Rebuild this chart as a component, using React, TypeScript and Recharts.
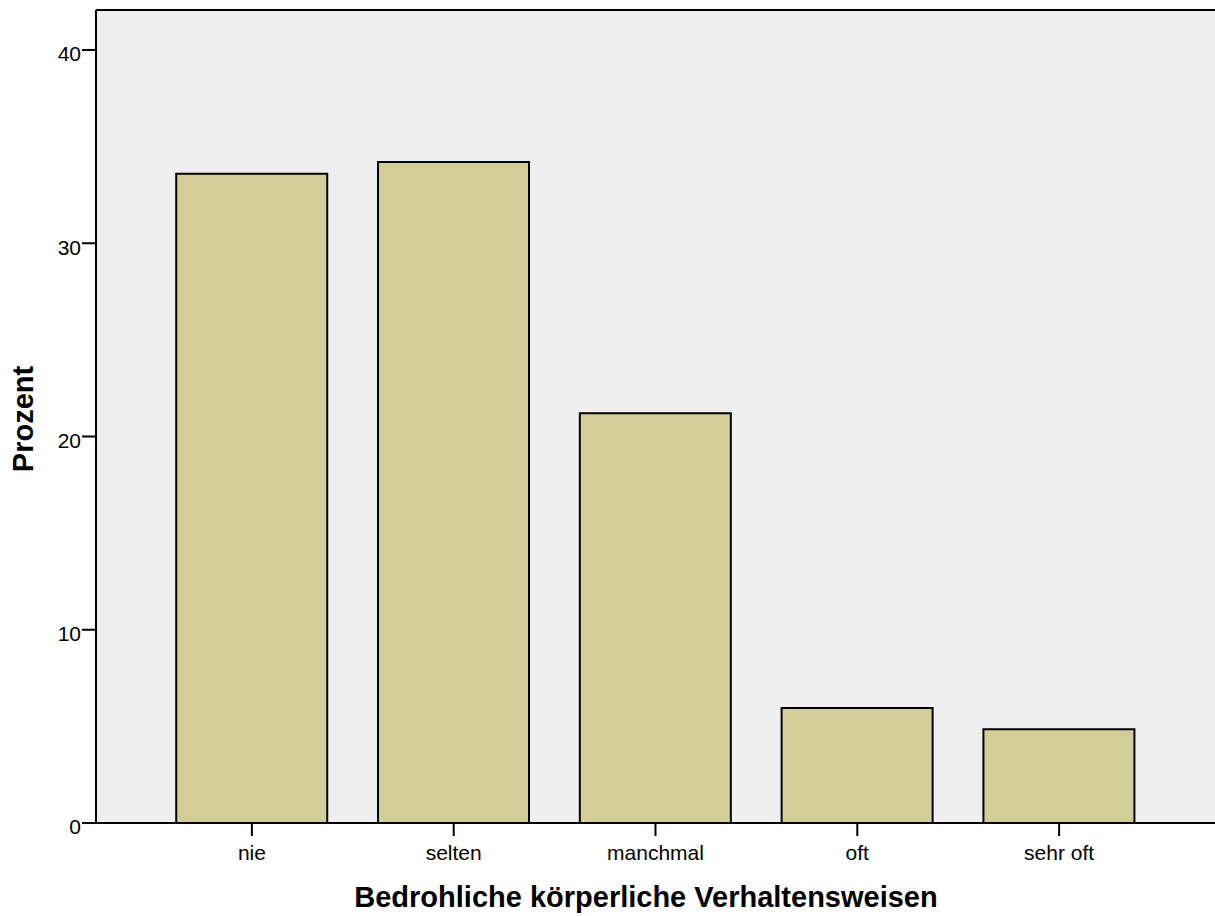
import { BarChart, Bar, XAxis, YAxis, CartesianGrid, ReferenceLine, Label } from 'recharts';

const categories = ['nie', 'selten', 'manchmal', 'oft', 'sehr oft'];
const percents = [33.6, 34.2, 21.2, 5.95, 4.85];
const yTicks = [0, 10, 20, 30, 40];

const FONT = 'Arial, "Liberation Sans", sans-serif';
const Y_MAX = 42.07;

export default function App() {
  const data = categories.map((name, i) => ({ name, value: percents[i] }));

  return (
    <div style={{ position: 'absolute', left: 0, top: 0, width: 1215, height: 916, background: '#fff' }}>
      <BarChart
        width={1215}
        height={916}
        data={data}
        margin={{ top: 10, right: 0, bottom: 0, left: 0 }}
        barCategoryGap="12.5%"
      >
        <CartesianGrid horizontal={false} vertical={false} fill="#EFEFEF" />
        <XAxis
          dataKey="name"
          height={93}
          padding={{ left: 55, right: 55 }}
          axisLine={{ stroke: '#000', strokeWidth: 2 }}
          tickLine={{ stroke: '#000', strokeWidth: 2 }}
          tickSize={13}
          tickMargin={9}
          tick={{ fill: '#000', fontSize: 21, fontFamily: FONT }}
        >
          <Label
            content={() => (
              <text
                x={646}
                y={907}
                textAnchor="middle"
                fontFamily={FONT}
                fontWeight="bold"
                fontSize={29}
                fill="#000"
              >
                Bedrohliche körperliche Verhaltensweisen
              </text>
            )}
          />
        </XAxis>
        <YAxis
          width={96}
          domain={[0, Y_MAX]}
          ticks={yTicks}
          axisLine={{ stroke: '#000', strokeWidth: 2 }}
          tickLine={{ stroke: '#000', strokeWidth: 2 }}
          tickSize={14}
          tickMargin={1}
          tick={{ fill: '#000', fontSize: 21, fontFamily: FONT, dy: 4 }}
        >
          <Label
            content={() => (
              <text
                x={33}
                y={419}
                transform="rotate(-90 33 419)"
                textAnchor="middle"
                fontFamily={FONT}
                fontWeight="bold"
                fontSize={29}
                fill="#000"
              >
                Prozent
              </text>
            )}
          />
        </YAxis>
        <ReferenceLine y={Y_MAX} stroke="#000" strokeWidth={2} />
        <Bar dataKey="value" fill="#D3CE98" stroke="#000" strokeWidth={2} isAnimationActive={false} />
      </BarChart>
    </div>
  );
}
